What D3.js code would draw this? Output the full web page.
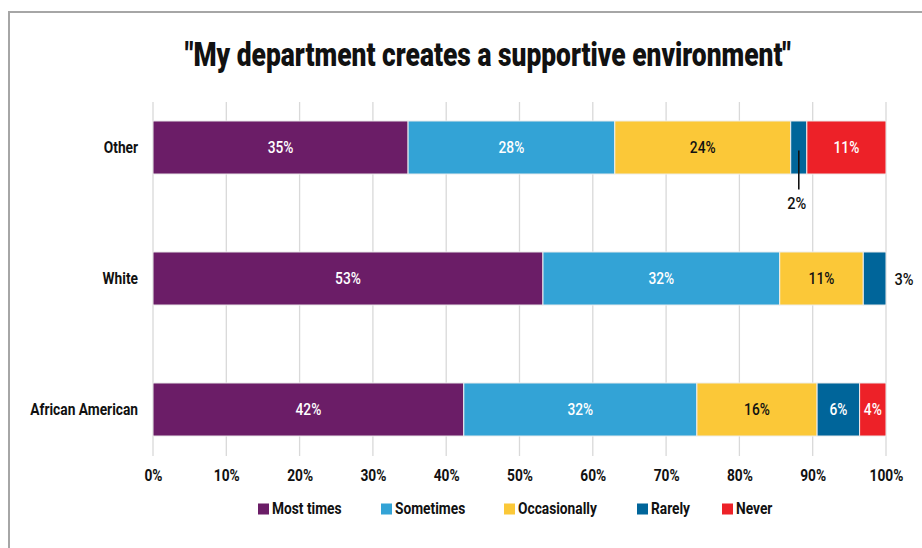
<!DOCTYPE html>
<html>
<head>
<meta charset="utf-8">
<script src="https://cdn.jsdelivr.net/npm/d3@7"></script>
<style>
  html, body { margin: 0; padding: 0; background: #fff; }
  svg { display: block; }
  text { font-family: Roboto, "Liberation Sans", sans-serif; }
  /* narrow the glyphs to give a condensed face */
  .cond   { transform-box: fill-box; transform-origin: center;      transform: scaleX(0.86); }
  .cond-r { transform-box: fill-box; transform-origin: right center; transform: scaleX(0.86); }
  .cond-l { transform-box: fill-box; transform-origin: left center;  transform: scaleX(0.86); }
</style>
</head>
<body>
<svg id="chart" width="922" height="548"></svg>
<script>
// Survey responses by group (percent of respondents)
const groups = ["Other", "White", "African American"];
const responses = ["Most times", "Sometimes", "Occasionally", "Rarely", "Never"];
const mostTimes    = [34.8, 53.2, 42.4];
const sometimes    = [28.2, 32.3, 31.8];
const occasionally = [24.0, 11.4, 16.4];
const rarely       = [2.2,  3.1,  5.8];
const never        = [10.8, 0,    3.6];
const tickValues   = [0, 10, 20, 30, 40, 50, 60, 70, 80, 90, 100];
const colors = ["#6b1d67", "#33a3d6", "#fbc838", "#00659a", "#ed2128"];
const labelColors = ["#fff", "#fff", "#111", "#fff", "#fff"];

const series = [mostTimes, sometimes, occasionally, rarely, never];
const rows = groups.map((g, i) => {
  const r = { group: g };
  responses.forEach((k, j) => { r[k] = series[j][i]; });
  return r;
});

const svg = d3.select("#chart");

// frame
svg.append("path")
  .attr("d", "M9,548 V12 H922")
  .attr("fill", "none")
  .attr("stroke", "#a6a6a6")
  .attr("stroke-width", 2);

const x = d3.scaleLinear().domain([0, 100]).range([153, 886]);
const y = d3.scaleBand().domain(groups).range([82, 475])
  .paddingInner(0.595).paddingOuter(0.2975);

// title, squeezed horizontally to a condensed width
const title = svg.append("text")
  .attr("x", 0).attr("y", 0)
  .attr("text-anchor", "middle")
  .attr("font-size", 33).attr("font-weight", 900)
  .attr("fill", "#111")
  .text("\"My department creates a supportive environment\"");
const titleW = title.node().getComputedTextLength();
title.attr("transform", `translate(488,66) scale(${606 / titleW},1)`);

// vertical gridlines
svg.append("g").selectAll("line").data(tickValues).join("line")
  .attr("x1", d => x(d)).attr("x2", d => x(d))
  .attr("y1", 102).attr("y2", 456)
  .attr("stroke", "#d9d9d9").attr("stroke-width", 1.3);

// x axis tick labels
const xAxis = d3.axisBottom(x).tickValues(tickValues).tickFormat(d => d + "%").tickSize(0);
const gx = svg.append("g").attr("transform", "translate(0,467)").call(xAxis);
gx.select(".domain").remove();
gx.selectAll("text").attr("class", "cond")
  .attr("font-size", 16).attr("font-weight", 700).attr("fill", "#111")
  .attr("font-family", "Roboto, sans-serif");

// y axis category labels
const yAxis = d3.axisLeft(y).tickSize(0).tickPadding(15);
const gy = svg.append("g").attr("transform", "translate(153,0)").call(yAxis);
gy.select(".domain").remove();
gy.selectAll("text").attr("class", "cond-r")
  .attr("font-size", 16).attr("font-weight", 700).attr("fill", "#111")
  .attr("font-family", "Roboto, sans-serif");

// stacked bars
const stack = d3.stack().keys(responses)(rows);
const layers = svg.append("g").selectAll("g").data(stack).join("g")
  .attr("fill", (d, i) => colors[i]);
layers.selectAll("rect").data(d => d).join("rect")
  .attr("x", d => x(d[0]))
  .attr("y", d => y(d.data.group))
  .attr("width", d => x(d[1]) - x(d[0]))
  .attr("height", y.bandwidth())
  .attr("stroke", "#eeeeee").attr("stroke-width", 1);

// value labels
const fmt = v => Math.round(v) + "%";
stack.forEach((layer, i) => {
  layer.forEach(d => {
    const v = d[1] - d[0];
    if (v <= 0) return;
    const cx = x((d[0] + d[1]) / 2);
    const cy = y(d.data.group) + y.bandwidth() / 2;
    const w = x(d[1]) - x(d[0]);
    if (w < 25) {
      if (d.data.group === "Other") {
        // callout below the bar
        svg.append("line")
          .attr("x1", cx).attr("x2", cx)
          .attr("y1", cy + 3).attr("y2", cy + 42)
          .attr("stroke", "#111").attr("stroke-width", 1.6);
        svg.append("text").attr("class", "cond")
          .attr("x", cx - 2).attr("y", cy + 56)
          .attr("text-anchor", "middle").attr("dominant-baseline", "central")
          .attr("font-size", 17).attr("font-weight", 500).attr("fill", "#111")
          .text(fmt(v));
      } else {
        // label beyond the end of the bar
        svg.append("text").attr("class", "cond")
          .attr("x", x(100) + 18).attr("y", cy + 1)
          .attr("text-anchor", "middle").attr("dominant-baseline", "central")
          .attr("font-size", 17).attr("font-weight", 500).attr("fill", "#111")
          .text(fmt(v));
      }
      return;
    }
    svg.append("text").attr("class", "cond")
      .attr("x", cx).attr("y", cy)
      .attr("text-anchor", "middle").attr("dominant-baseline", "central")
      .attr("font-size", 16).attr("font-weight", 500)
      .attr("fill", labelColors[i])
      .text(fmt(v));
  });
});

// legend
const legendX = [258, 381, 504, 637, 722];
const legend = svg.append("g").selectAll("g").data(responses).join("g")
  .attr("transform", (d, i) => `translate(${legendX[i]},509)`);
legend.append("rect")
  .attr("x", 0).attr("y", -5.5).attr("width", 11).attr("height", 11)
  .attr("fill", (d, i) => colors[i]);
legend.append("text").attr("class", "cond-l")
  .attr("x", 14).attr("y", 0).attr("dominant-baseline", "central")
  .attr("font-size", 16).attr("font-weight", 700).attr("fill", "#111")
  .text(d => d);
</script>
</body>
</html>
